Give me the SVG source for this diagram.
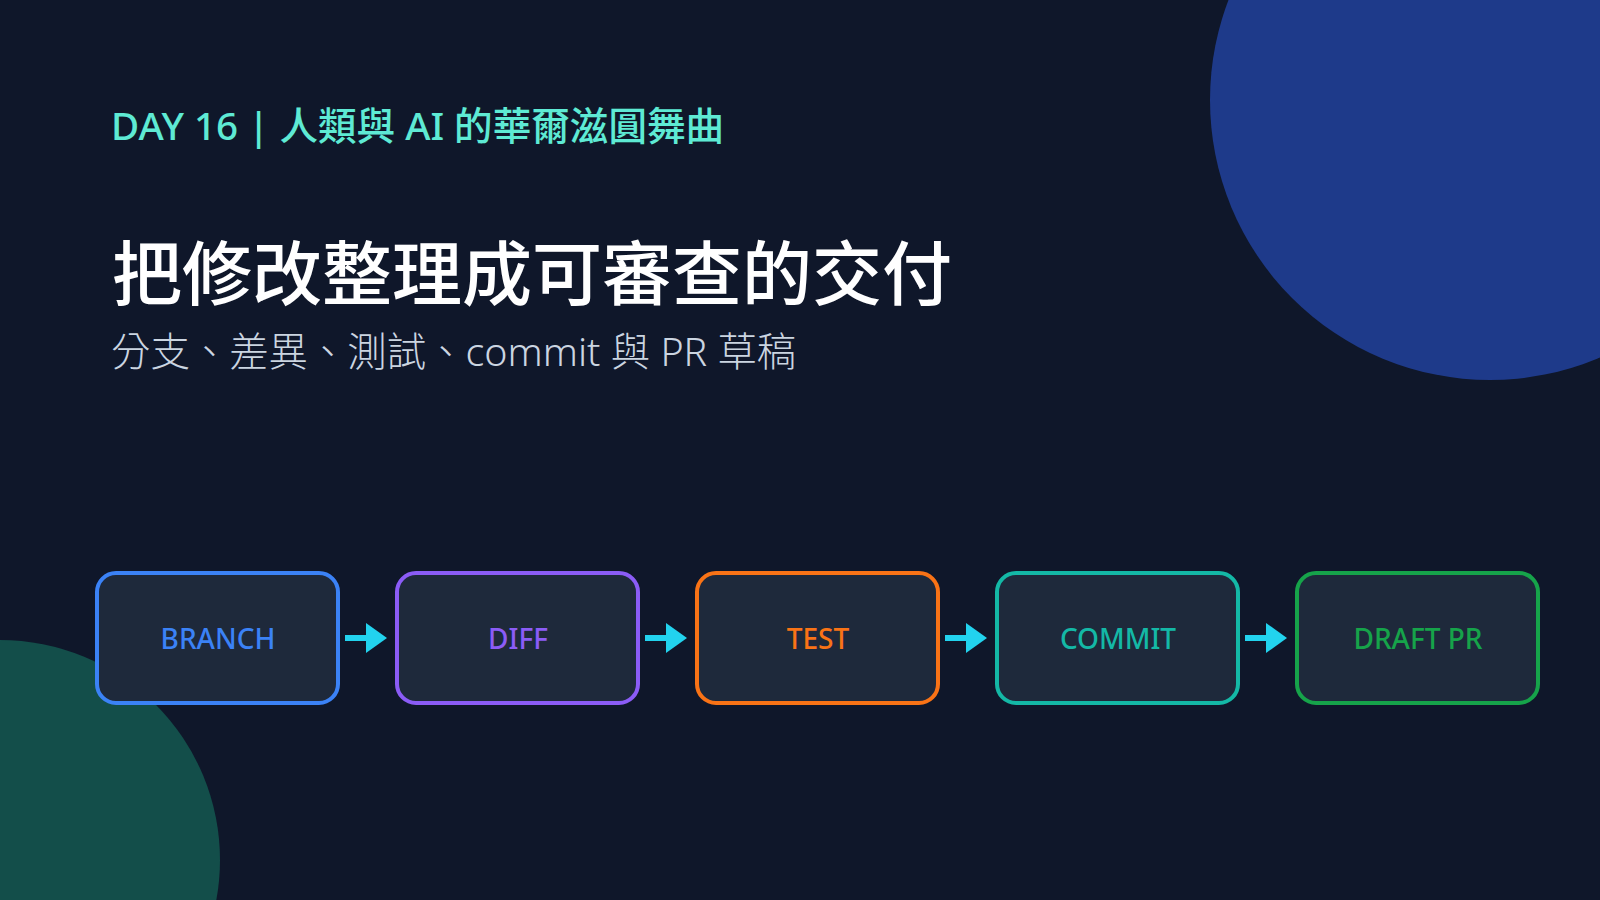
<svg xmlns="http://www.w3.org/2000/svg" width="1600" height="900" viewBox="0 0 1600 900">
  <defs>
    <style>
      .bg { fill: #0f172a; }
      .kicker { font-family: "Noto Sans", "Noto Sans CJK TC", sans-serif; font-size: 38.6px; font-weight: 500; fill: #5eead4; }
      .title { font-family: "Noto Sans CJK TC", sans-serif; font-size: 70px; font-weight: 500; fill: #ffffff; }
      .sub { font-family: "Noto Sans", "Noto Sans CJK TC", sans-serif; font-size: 39.4px; font-weight: 300; fill: #cbd5e1; }
      .box { fill: #1e293b; stroke-width: 4; }
      .lbl { font-family: "Noto Sans", "Noto Sans CJK TC", sans-serif; font-size: 28px; font-weight: 500; text-anchor: middle; }
      .conn { stroke: #22d3ee; stroke-width: 6; fill: none; }
    </style>
    <marker id="arr" markerUnits="userSpaceOnUse" markerWidth="22" markerHeight="30" refX="0" refY="15" orient="auto">
      <polygon points="0,0 21,15 0,30" fill="#22d3ee"/>
    </marker>
  </defs>
  <rect class="bg" x="0" y="0" width="1600" height="900"/>
  <circle cx="1490" cy="100" r="280" fill="#1e3a8a"/>
  <circle cx="0" cy="860" r="220" fill="#134e4a"/>

  <g id="header">
    <text class="kicker" x="111" y="140">DAY 16 | 人類與 AI 的華爾滋圓舞曲</text>
    <text class="title" x="112" y="300">把修改整理成可審查的交付</text>
    <text class="sub" x="111" y="366">分支、差異、測試、commit 與 PR 草稿</text>
  </g>

  <g id="connectors">
    <line class="conn" x1="345" y1="638" x2="366" y2="638" marker-end="url(#arr)"/>
    <line class="conn" x1="645" y1="638" x2="666" y2="638" marker-end="url(#arr)"/>
    <line class="conn" x1="945" y1="638" x2="966" y2="638" marker-end="url(#arr)"/>
    <line class="conn" x1="1245" y1="638" x2="1266" y2="638" marker-end="url(#arr)"/>
  </g>

  <g id="node-branch">
    <rect class="box" x="97" y="573" width="241" height="130" rx="19" stroke="#3b82f6"/>
    <text class="lbl" x="218" y="649" fill="#3b82f6">BRANCH</text>
  </g>
  <g id="node-diff">
    <rect class="box" x="397" y="573" width="241" height="130" rx="19" stroke="#8b5cf6"/>
    <text class="lbl" x="518" y="649" fill="#8b5cf6">DIFF</text>
  </g>
  <g id="node-test">
    <rect class="box" x="697" y="573" width="241" height="130" rx="19" stroke="#f97316"/>
    <text class="lbl" x="818" y="649" fill="#f97316">TEST</text>
  </g>
  <g id="node-commit">
    <rect class="box" x="997" y="573" width="241" height="130" rx="19" stroke="#14b8a6"/>
    <text class="lbl" x="1118" y="649" fill="#14b8a6">COMMIT</text>
  </g>
  <g id="node-draft-pr">
    <rect class="box" x="1297" y="573" width="241" height="130" rx="19" stroke="#16a34a"/>
    <text class="lbl" x="1418" y="649" fill="#16a34a">DRAFT PR</text>
  </g>
</svg>
